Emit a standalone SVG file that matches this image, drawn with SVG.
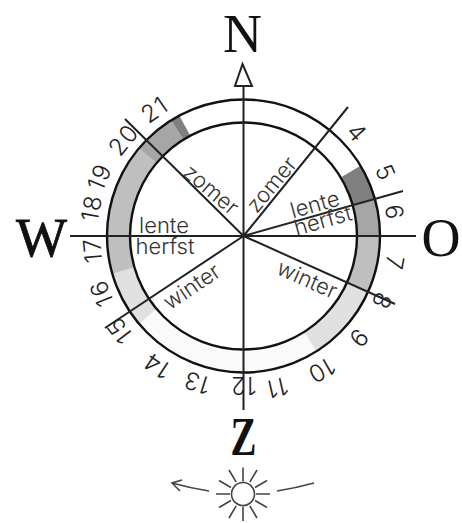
<svg xmlns="http://www.w3.org/2000/svg" width="462" height="523" viewBox="0 0 462 523">
<style>
.l{stroke:#222;stroke-width:2;fill:none}
.r{stroke:#111;stroke-width:2.4;fill:none}
.b{stroke-width:23;fill:none}
.t{font-family:"Inter","Open Sans",sans-serif;font-weight:300;font-size:22px;fill:#333;text-anchor:middle}
.n{font-family:"Inter","Open Sans",sans-serif;font-weight:300;font-size:24px;letter-spacing:1.5px;fill:#222;text-anchor:middle}
.c{font-family:"Liberation Serif",serif;font-size:54px;fill:#111;text-anchor:middle}
.s{stroke:#444;stroke-width:1.6;fill:none}
</style>
<g id="ring">
<path class="b" stroke="#808080" d="M350.6 171.6A125 125 0 0 1 363.8 202.2"/>
<path class="b" stroke="#a6a6a6" d="M363.8 202.2A125 125 0 0 1 368.5 236"/>
<path class="b" stroke="#bfbfbf" d="M368.5 236A125 125 0 0 1 357.7 286.8"/>
<path class="b" stroke="#e0e0e0" d="M357.7 286.8A125 125 0 0 1 310.3 341.7"/>
<path class="b" stroke="#fafafa" d="M310.3 341.7A125 125 0 0 1 147.7 316.4"/>
<path class="b" stroke="#e0e0e0" d="M147.7 316.4A125 125 0 0 1 123.3 270.5"/>
<path class="b" stroke="#bfbfbf" d="M123.3 270.5A125 125 0 0 1 147.7 155.6"/>
<path class="b" stroke="#a6a6a6" d="M147.7 155.6A125 125 0 0 1 177.3 130"/>
<path class="b" stroke="#808080" d="M177.3 130A125 125 0 0 1 184.8 125.6"/>
<circle class="r" cx="243.5" cy="236" r="136.5"/>
<circle class="r" cx="243.5" cy="236" r="113.5"/>
</g>
<g id="connectors">
<path class="l" d="M243.5 86V410M70 236H416M243.5 236L125 119M243.5 236L348 107M243.5 236L403 191M243.5 236L105 328M243.5 236L395 304"/>
</g>
<g id="north-arrow"><path d="M242.5 64L235 86H252Z" fill="#fff" stroke="#222" stroke-width="2"/></g>
<g id="compass">
<text class="c" x="242.5" y="52">N</text>
<text class="c" x="41.5" y="256" stroke="#111" stroke-width=".8">W</text>
<text class="c" x="441" y="256">O</text>
<text class="c" transform="translate(243.5,455) scale(.72,1)" font-weight="bold">Z</text>
</g>
<g id="seasons">
<text class="t" transform="translate(210.7,190) rotate(40) translate(0,7)">zomer</text>
<text class="t" transform="translate(272,185) rotate(-50) translate(0,7)">zomer</text>
<text class="t" transform="translate(315,205) rotate(-15.7) translate(0,7)">lente</text>
<text class="t" transform="translate(323,221) rotate(-15.7) translate(0,7)">herfst</text>
<text class="t" x="164" y="233">lente</text>
<text class="t" x="165" y="254">herfst</text>
<text class="t" transform="translate(192,287) rotate(-34) translate(0,7)">winter</text>
<text class="t" transform="translate(307,280) rotate(24) translate(0,7)">winter</text>
</g>
<g id="hours">
<text class="n" transform="translate(356.7,133) rotate(48) translate(0,8)">4</text>
<text class="n" transform="translate(385,173) rotate(66) translate(0,8)">5</text>
<text class="n" transform="translate(394,212.7) rotate(81) translate(0,8)">6</text>
<text class="n" transform="translate(394,263) rotate(100) translate(0,8)">7</text>
<text class="n" transform="translate(381,301) rotate(115) translate(0,8)">8</text>
<text class="n" transform="translate(358,338) rotate(131) translate(0,8)">9</text>
<text class="n" transform="translate(321,370) rotate(150) translate(0,8)">10</text>
<text class="n" transform="translate(277,387) rotate(167) translate(0,8)">11</text>
<text class="n" transform="translate(243,385) rotate(180) translate(0,8)">12</text>
<text class="n" transform="translate(197,382) rotate(197.5) translate(0,8)">13</text>
<text class="n" transform="translate(157,365) rotate(213.7) translate(0,8)">14</text>
<text class="n" transform="translate(120,330) rotate(232.6) translate(0,8)">15</text>
<text class="n" transform="translate(102,293) rotate(248) translate(0,8)">16</text>
<text class="n" transform="translate(93,250) rotate(264.6) translate(0,8)">17</text>
<text class="n" transform="translate(92,208) rotate(280.5) translate(0,8)">18</text>
<text class="n" transform="translate(100,177) rotate(292.4) translate(0,8)">19</text>
<text class="n" transform="translate(124,140) rotate(309) translate(0,8)">20</text>
<text class="n" transform="translate(155,110) rotate(325) translate(0,8)">21</text>
</g>
<g id="sun">
<circle class="s" cx="243" cy="494" r="11.5"/>
<path class="s" d="M243 481.5V467.5M249.8 482.2L257 470M255 487.5L267 480.5M256 494H270M255 500.5L267 507.5M249.8 505.8L257 518M243 506.5V521M236.2 505.8L229 518M231 500.5L219 507.5M230 494H216M231 487.5L219 480.5M236.2 482.2L229 470"/>
<path class="s" d="M209 491Q190 488 172 483M182 480L172 483L180 491M277 491Q296 488 314 483"/>
</g>
</svg>
